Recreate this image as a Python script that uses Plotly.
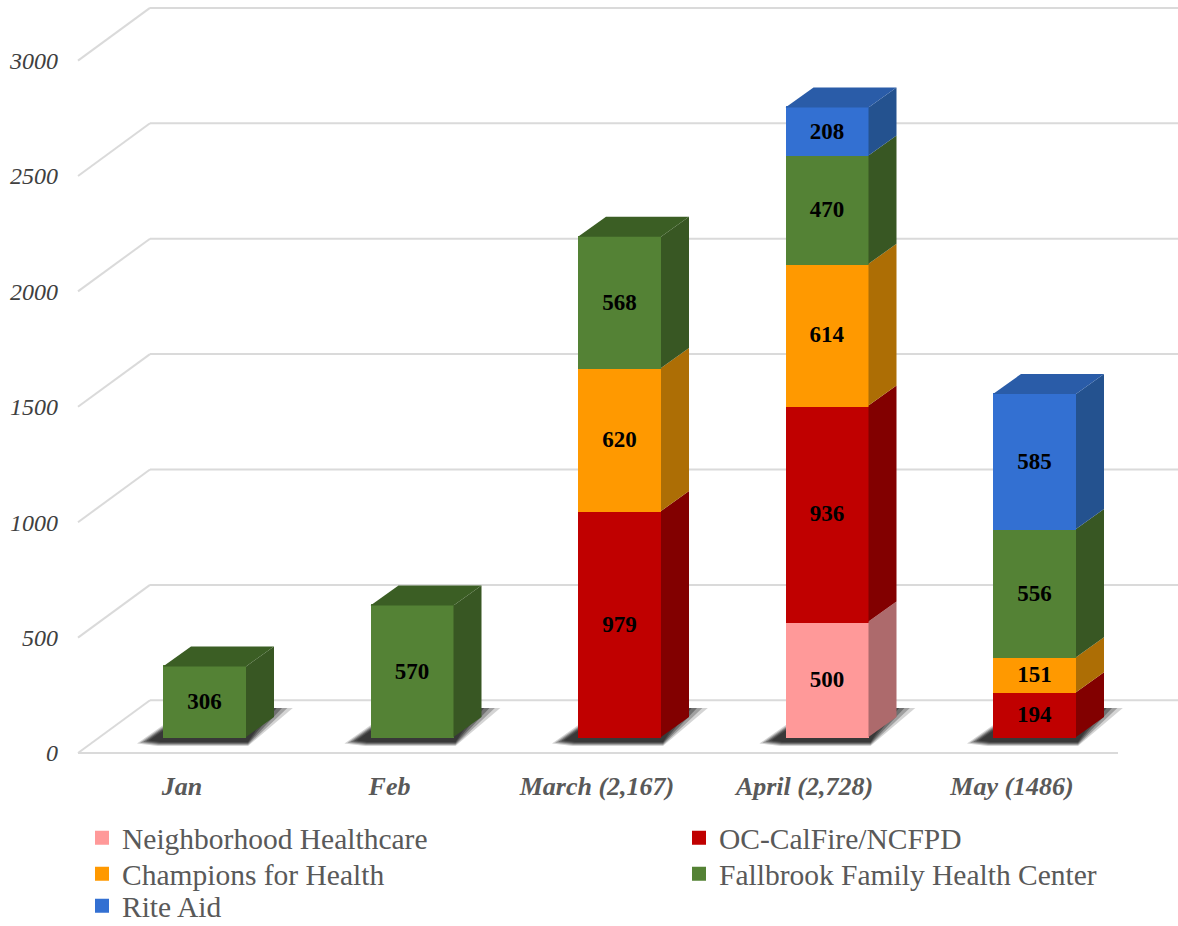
import plotly.graph_objects as go

months = ["Jan", "Feb", "March (2,167)", "April (2,728)", "May (1486)"]
neighborhood = [None, None, None, 500, None]
oc_calfire = [None, None, 979, 936, 194]
champions = [None, None, 620, 614, 151]
fallbrook = [306, 570, 568, 470, 556]
rite_aid = [None, None, None, 208, 585]
y_ticks = [0, 500, 1000, 1500, 2000, 2500, 3000]

series = [
    ("Neighborhood Healthcare", neighborhood, "#FF9999", "#AD6A6C", "#AD6A6C"),
    ("OC-CalFire/NCFPD", oc_calfire, "#C00000", "#820000", "#820000"),
    ("Champions for Health", champions, "#FF9900", "#AD6E05", "#AD6E05"),
    ("Fallbrook Family Health Center", fallbrook, "#548235", "#385723", "#3B5E24"),
    ("Rite Aid", rite_aid, "#3370D2", "#24528F", "#2A5CA8"),
]

W, H = 1178, 926
L, R, T, B = 59, 0, 0, 158
PX_X0, PX_Y0 = 204.5, 737.0      # pixel of first bar centre / of value 0
X_STEP, Y_SCALE = 207.5, 0.2308  # px per category, px per unit
BAR_W = 81 / X_STEP              # plus a 2px outline in the same colour
BAR_OUT = 83 / X_STEP
DX, DY = 28 / X_STEP, 20 / Y_SCALE

def ux(px):
    return px / X_STEP

def uy(px):
    return px / Y_SCALE

x_range = [(L - PX_X0) / X_STEP, (W - R - PX_X0) / X_STEP]
y_range = [(PX_Y0 - (H - B)) / Y_SCALE, (PX_Y0 - T) / Y_SCALE]
WALL_BACK = uy(36.7)
WALL_FRONT = uy(-16)
wall_left_front = (78 - PX_X0) / X_STEP
wall_left_back = (150 - PX_X0) / X_STEP
floor_right = (1118 - PX_X0) / X_STEP

fig = go.Figure()
xs = list(range(len(months)))
legend_ids = ["legend", "legend2", "legend3", "legend4", "legend5"]

for (name, vals, col, side, top), lg in zip(series, legend_ids):
    fig.add_trace(go.Bar(
        x=xs, y=vals, name=name, width=BAR_W, legend=lg,
        marker=dict(color=col, line=dict(width=2, color=col)),
        text=[None if v is None else str(v) for v in vals],
        textposition="inside", insidetextanchor="middle", textangle=0,
        constraintext="none",
        textfont=dict(family="Liberation Serif", size=23, color="#000000", weight="bold"),
        hoverinfo="skip",
    ))

# side and top faces, derived from the stacked values
base = [0] * len(months)
tops = {}
for name, vals, col, side, top in series:
    sx, sy = [], []
    for i, v in enumerate(vals):
        if v is None:
            continue
        r = i + BAR_OUT / 2
        b, t = base[i], base[i] + v
        sx += [r, r + DX, r + DX, r, r, None]
        sy += [b, b + DY, t + DY, t, b, None]
        base[i] = t
        tops[i] = top
    fig.add_trace(go.Scatter(x=sx, y=sy, mode="lines", fill="toself", fillcolor=side,
                             line=dict(width=0), showlegend=False, hoverinfo="skip"))
for i, top in tops.items():
    l, r, t = i - BAR_OUT / 2, i + BAR_OUT / 2, base[i]
    fig.add_trace(go.Scatter(
        x=[l, r, r + DX, l + DX, l], y=[t, t, t + DY, t + DY, t],
        mode="lines", fill="toself", fillcolor=top, line=dict(width=0),
        showlegend=False, hoverinfo="skip"))

shapes = []
GRID = dict(color="#DADADA", width=2)
for v in y_ticks:
    yb = v + WALL_BACK
    yf = v + WALL_FRONT
    shapes.append(dict(type="line", xref="x", yref="y", layer="below", x0=wall_left_front, y0=yf,
                       x1=wall_left_back, y1=yb, line=GRID))
    shapes.append(dict(type="line", xref="x", yref="y", layer="below", x0=wall_left_back, y0=yb,
                       x1=x_range[1], y1=yb, line=GRID))
shapes.append(dict(type="line", xref="x", yref="y", layer="below", x0=wall_left_front, y0=WALL_FRONT,
                   x1=floor_right, y1=WALL_FRONT, line=GRID))

# soft drop shadows under each bar
for i in xs:
    l, r = i - BAR_OUT / 2, i + BAR_OUT / 2
    for grow, alpha in [(1.3, 0.2), (1.15, 0.3), (1.0, 0.4), (0.85, 0.5), (0.7, 0.55)]:
        pts = [
            (l - ux(20 * grow), -uy(5 * grow)),
            (l - ux(4 * grow), -uy(7 * grow)),
            (r + ux(2), -uy(7 * grow)),
            (r + ux(36 * grow), uy(29)),
            (r, uy(29)),
            (l, uy(9 * grow)),
        ]
        path = "M " + " L ".join(f"{a:.4f},{b:.2f}" for a, b in pts) + " Z"
        shapes.append(dict(type="path", xref="x", yref="y", layer="below", path=path,
                           fillcolor=f"rgba(40,40,40,{alpha})", line=dict(width=0)))

legend_font = dict(family="Liberation Serif", size=29.5, color="#595959")

def legend_at(px_x, px_y):
    return dict(
        x=(px_x - L) / (W - L - R), xanchor="left",
        y=((H - B) - px_y) / (H - T - B), yanchor="middle",
        font=legend_font, bgcolor="rgba(0,0,0,0)", borderwidth=0,
    )

fig.update_layout(
    width=W, height=H,
    margin=dict(l=L, r=R, t=T, b=B, pad=0, autoexpand=False),
    barmode="stack", plot_bgcolor="#FFFFFF", paper_bgcolor="#FFFFFF",
    shapes=shapes,
    showlegend=True,
    legend=legend_at(82, 838),
    legend2=legend_at(679, 838),
    legend3=legend_at(82, 874),
    legend4=legend_at(679, 874),
    legend5=legend_at(82, 906),
    xaxis=dict(
        range=x_range, showgrid=False, zeroline=False, showline=False, ticks="",
        tickmode="array", tickvals=[i - ux(22.5) for i in xs], ticktext=months,
        tickfont=dict(family="Liberation Serif", size=26, color="#595959", style="italic", weight="bold"),
    ),
    yaxis=dict(
        range=y_range, showgrid=False, zeroline=False, showline=False, ticks="",
        tickmode="array", tickvals=[v + WALL_FRONT for v in y_ticks], ticktext=[str(v) for v in y_ticks],
        tickfont=dict(family="Liberation Serif", size=24, color="#404040", style="italic"),
    ),
)

fig.write_html("out.html", config={"displayModeBar": False},
               post_script="document.body.style.margin='0';document.body.style.overflow='hidden';")
